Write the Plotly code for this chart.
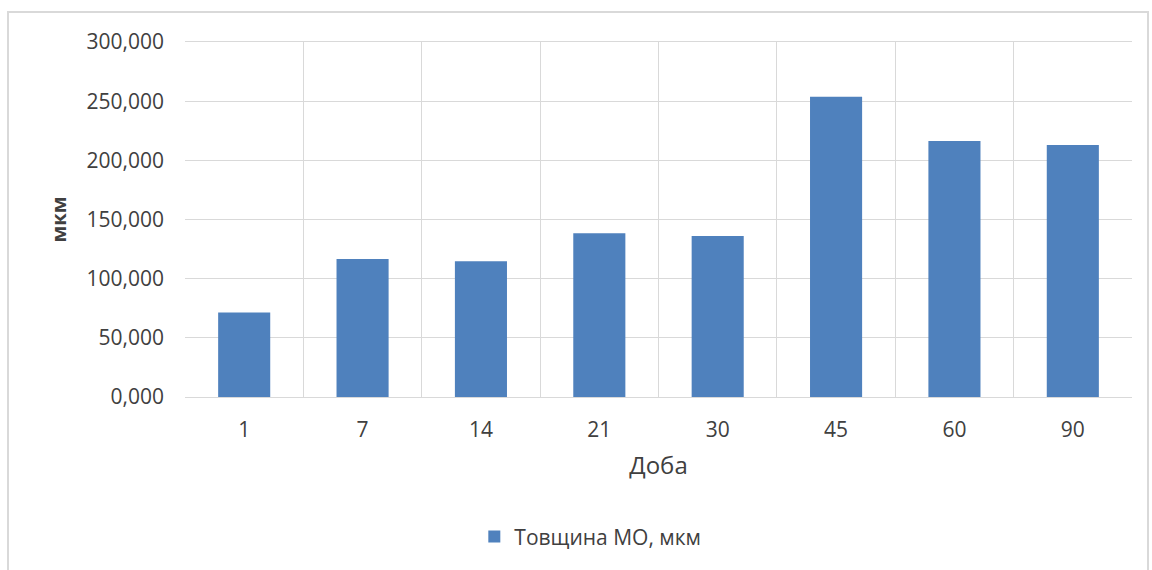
import plotly.graph_objects as go

# Day of observation and measured layer thickness (µm)
days = ["1", "7", "14", "21", "30", "45", "60", "90"]
thickness = [71.5, 116.6, 114.7, 138.3, 136.0, 253.8, 216.3, 213.0]
y_ticks = [0, 50, 100, 150, 200, 250, 300]

series_name = "Товщина МО, мкм"
text_color = "#404040"
grid_color = "#d9d9d9"
bar_color = "#4F81BD"
font_family = "Open Sans, DejaVu Sans, sans-serif"

fig = go.Figure()
fig.add_trace(go.Bar(
    x=days,
    y=thickness,
    name=series_name,
    marker=dict(color=bar_color, line=dict(width=0)),
    showlegend=True,
))

fig.update_layout(
    width=1152,
    height=570,
    margin=dict(l=185, r=20, t=42, b=173),
    paper_bgcolor="white",
    plot_bgcolor="white",
    separators=", ",
    font=dict(family=font_family, color=text_color, size=21),
    bargap=0.56,
    showlegend=True,
    legend=dict(
        orientation="h",
        x=0.428, xanchor="center",
        y=-0.394, yanchor="middle",
        font=dict(size=21, color=text_color),
        itemsizing="constant",
        itemwidth=30,
    ),
    xaxis=dict(
        type="category",
        tickson="boundaries",
        showgrid=True,
        gridcolor=grid_color,
        gridwidth=1,
        showline=True,
        linecolor=grid_color,
        linewidth=1,
        mirror=True,
        ticks="",
        ticklabelstandoff=14,
        tickfont=dict(size=21, color=text_color),
        title=dict(text="Доба", font=dict(size=24, color=text_color), standoff=14),
    ),
    yaxis=dict(
        range=[0, 300],
        tickvals=y_ticks,
        tickformat=".3f",
        showgrid=True,
        gridcolor=grid_color,
        gridwidth=1,
        zeroline=False,
        showline=False,
        ticks="",
        ticklabelstandoff=20,
        tickfont=dict(size=21, color=text_color),
        title=dict(text="<b>мкм</b>", font=dict(size=20, color=text_color), standoff=14),
    ),
)

# Light frame around the whole chart area
fig.add_shape(
    type="rect", xref="paper", yref="paper",
    x0=-177 / 947, x1=1148 / 947 - 185 / 947,
    y0=-0.6, y1=(397 - 12) / 355,
    line=dict(color=grid_color, width=2),
    fillcolor="rgba(0,0,0,0)",
    layer="below",
)

fig.write_html("out.html")
